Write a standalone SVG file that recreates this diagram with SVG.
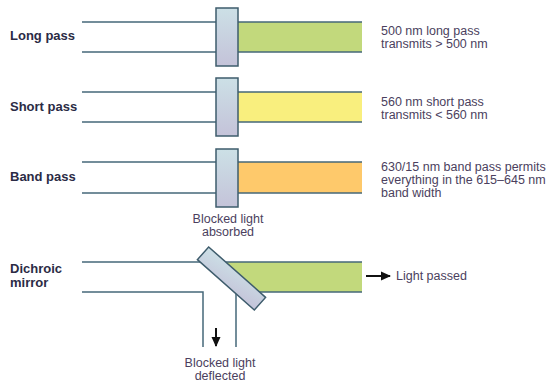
<svg xmlns="http://www.w3.org/2000/svg" width="551" height="386" viewBox="0 0 551 386">
<style>
.ln{stroke:#46687a;stroke-width:1.5;fill:none}
.flt{fill:url(#fg);stroke:#3e5c6c;stroke-width:1.5}
.lab{font-family:"Liberation Sans",Arial,sans-serif;font-weight:bold;font-size:13px;fill:#2b2b45}
.txt{font-family:"Liberation Sans",Arial,sans-serif;font-size:12.5px;fill:#4b3f5e}
.arr{stroke:#111;stroke-width:2;marker-end:url(#ah)}
</style>
<defs>
<linearGradient id="fg" x1="0" y1="0" x2="0" y2="1">
<stop offset="0" stop-color="#cce0e6"/>
<stop offset="1" stop-color="#c4c3d9"/>
</linearGradient>
<linearGradient id="mg" x1="0" y1="0" x2="1" y2="1">
<stop offset="0" stop-color="#cce0e6"/>
<stop offset="1" stop-color="#c4c3d9"/>
</linearGradient>
<marker id="ah" viewBox="0 0 10 10" refX="9" refY="5" markerWidth="10" markerHeight="10" markerUnits="userSpaceOnUse" orient="auto">
<path d="M0,0.5 L10,5 L0,9.5 z" fill="#111"/>
</marker>
</defs>

<g id="long-pass">
<rect x="238" y="22" width="124" height="30" fill="#c2d97c"/>
<path class="ln" d="M82,22H362M82,52H362"/>
<rect class="flt" x="216" y="8" width="22" height="58"/>
<text class="lab" x="10" y="40">Long pass</text>
<text class="txt" x="381" y="35">500 nm long pass</text>
<text class="txt" x="381" y="48">transmits &gt; 500 nm</text>
</g>

<g id="short-pass">
<rect x="238" y="92" width="124" height="30" fill="#f9ef7e"/>
<path class="ln" d="M82,92H362M82,122H362"/>
<rect class="flt" x="216" y="78" width="22" height="58"/>
<text class="lab" x="10" y="111">Short pass</text>
<text class="txt" x="381" y="106">560 nm short pass</text>
<text class="txt" x="381" y="119">transmits &lt; 560 nm</text>
</g>

<g id="band-pass">
<rect x="238" y="162" width="124" height="31" fill="#fec96b"/>
<path class="ln" d="M82,162H362M82,193H362"/>
<rect class="flt" x="216" y="149" width="22" height="58"/>
<text class="lab" x="10" y="181">Band pass</text>
<text class="txt" x="381" y="171">630/15 nm band pass permits</text>
<text class="txt" x="381" y="184">everything in the 615–645 nm</text>
<text class="txt" x="381" y="197">band width</text>
<text class="txt" x="228" y="223" text-anchor="middle">Blocked light</text>
<text class="txt" x="228" y="236" text-anchor="middle">absorbed</text>
</g>

<g id="dichroic-mirror">
<path class="ln" d="M82,262H205M82,292H203V347M236,285V347"/>
<polygon points="220,262 362,262 362,292 255,292" fill="#c2d97c"/>
<path class="ln" d="M225,262H362M259,292H362"/>
<rect x="-38" y="-8.5" width="76" height="17" fill="url(#mg)" stroke="#3e5c6c" stroke-width="1.5" transform="translate(231.5,278.5) rotate(41.5)"/>
<text class="lab" x="10" y="273">Dichroic</text>
<text class="lab" x="10" y="287">mirror</text>
<text class="txt" x="396" y="280">Light passed</text>
<text class="txt" x="220" y="367" text-anchor="middle">Blocked light</text>
<text class="txt" x="220" y="380" text-anchor="middle">deflected</text>
</g>

<g id="connectors">
<line class="arr" x1="366" y1="276" x2="390" y2="276"/>
<line class="arr" x1="216" y1="328" x2="216" y2="346"/>
</g>
</svg>
